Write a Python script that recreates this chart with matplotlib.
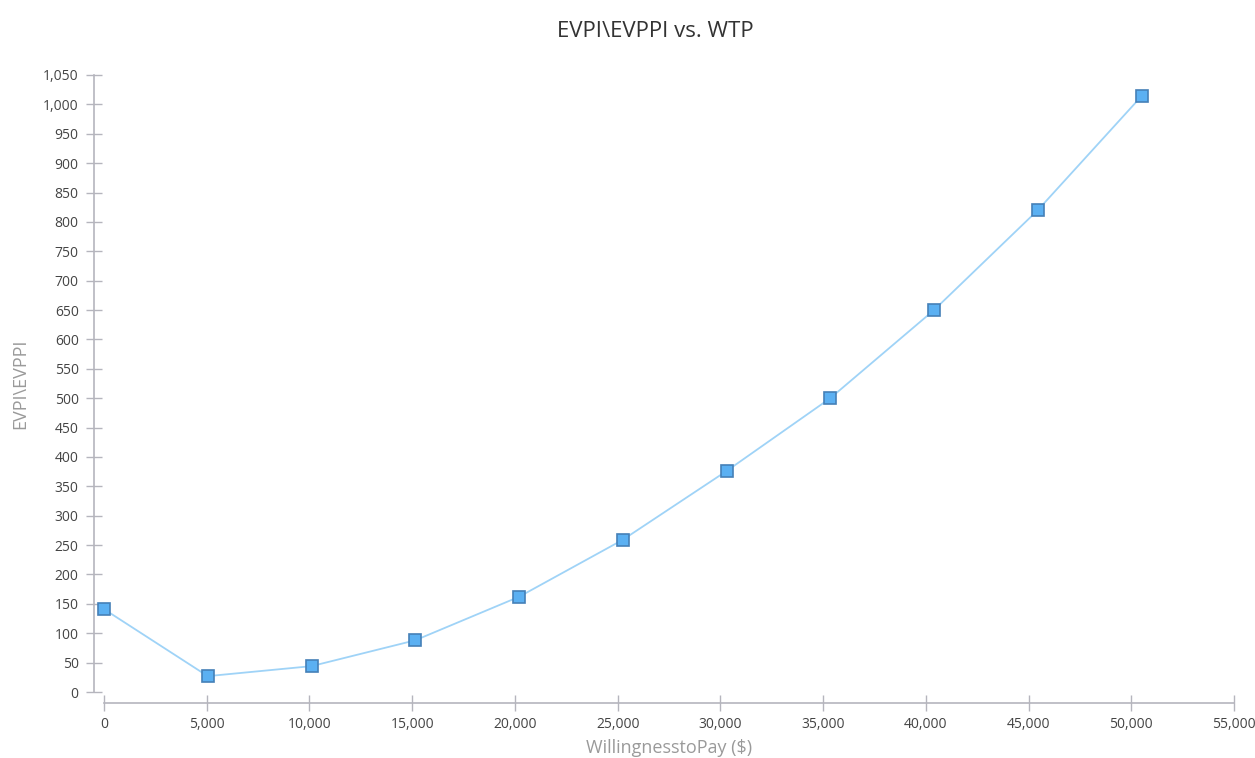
import numpy as np
import matplotlib.pyplot as plt
from matplotlib.ticker import FuncFormatter, MultipleLocator

plt.rcParams['font.family'] = ['Open Sans', 'DejaVu Sans']

# values
wtp = [0, 5050, 10100, 15150, 20200, 25250, 30300, 35350, 40400, 45450, 50500]
evpi = [141, 27, 44, 88, 162, 259, 376, 500, 650, 820, 1014]

fig = plt.figure(figsize=[12.55, 7.58], dpi=100)
ax = fig.add_axes([104 / 1255, 1 - 692 / 758, (1234 - 104) / 1255, (692 - 75) / 758])

ax.plot(wtp, evpi, color='#9fd3f7', lw=1.3, marker='s', markersize=9,
        markerfacecolor='#5bb0f2', markeredgecolor='#4580b8', markeredgewidth=1.2,
        clip_on=False, zorder=3)

ax.set_xlim(0, 55000)
ax.set_ylim(0, 1050)
ax.xaxis.set_major_locator(MultipleLocator(5000))
ax.yaxis.set_major_locator(MultipleLocator(50))
fmt = FuncFormatter(lambda v, p: f'{int(v):,}')
ax.xaxis.set_major_formatter(fmt)
ax.yaxis.set_major_formatter(fmt)

for s in ['top', 'right']:
    ax.spines[s].set_visible(False)
ax.spines['left'].set_position(('outward', 7.2))
ax.spines['bottom'].set_position(('outward', 8))
for s in ['left', 'bottom']:
    ax.spines[s].set_color('#b5b5bd')
    ax.spines[s].set_linewidth(1.2)
ax.tick_params(direction='inout', length=12, width=1, color='#b5b5bd',
               labelsize=10, labelcolor='#444444')
ax.tick_params(axis='y', pad=5)
ax.tick_params(axis='x', pad=4)

ax.set_xlabel('WillingnesstoPay ($)', color='#9a9a9a', fontsize=13, labelpad=5)
ax.set_ylabel('EVPI\\EVPPI', color='#9a9a9a', fontsize=13, labelpad=10)
fig.suptitle('EVPI\\EVPPI vs. WTP', x=0.522, y=0.972, fontsize=16, color='#333333')

plt.savefig('out.png', dpi=100)
